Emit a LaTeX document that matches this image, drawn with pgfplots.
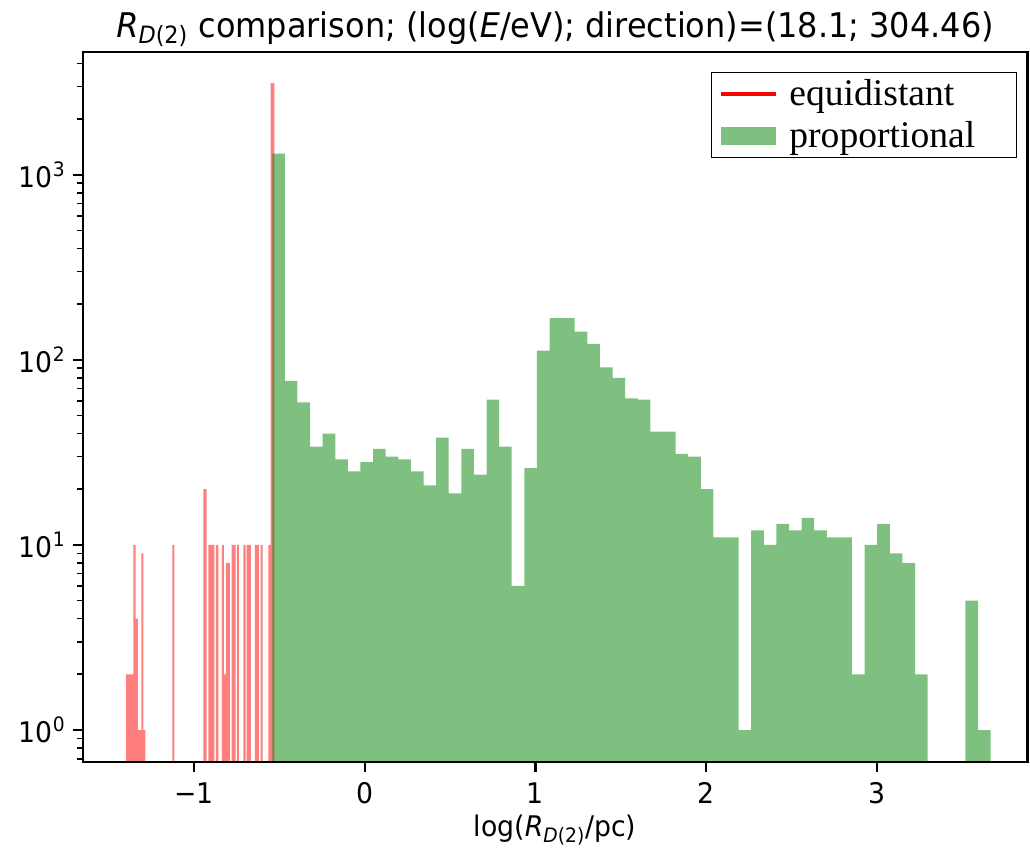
\documentclass[border=0pt]{standalone}
\usepackage{fontspec}
\setmainfont{DejaVu Sans}[FakeStretch=0.94]
\newfontfamily\legfont{Liberation Serif}
\usepackage{pgfplots}
\pgfplotsset{compat=1.18}
\definecolor{mplred}{RGB}{255,0,0}
\definecolor{mplgreen}{RGB}{0,128,0}
\begin{document}
\begin{tikzpicture}
\begin{axis}[
  name=ax, scale only axis, width=472.4pt, height=355pt,
  xmin=-1.654, xmax=3.884,
  ymode=log, log basis y=10, ymin=0.674, ymax=4624,
  log origin=infty,
  axis on top,
  xtick={-1,0,1,2,3}, xticklabels={−1,0,1,2,3},
  ytick={1,10,100,1000},
  yticklabels={10\textsuperscript{0},10\textsuperscript{1},10\textsuperscript{2},10\textsuperscript{3}},
  minor ytick={0.7,0.8,0.9,2,3,4,5,6,7,8,9,20,30,40,50,60,70,80,90,200,300,400,500,600,700,800,900,2000,3000,4000},
  xtick pos=left, ytick pos=left, tick align=outside,
  major tick length=4.96pt, minor tick length=2.83pt,
  every tick/.append style={black, line width=1.13pt},
  every minor tick/.append style={line width=0.85pt},
  axis line style={line width=1.13pt},
  tick label style={font=\fontsize{14.2}{17}\selectfont},
  xticklabel style={yshift=-2pt},
  title={\textit{R}\textsubscript{\textit{D}(2)} comparison; (log(\textit{E}/eV); direction)=(18.1; 304.46)},
  title style={font=\fontsize{17}{20}\selectfont, at={(0.5,1)}, anchor=base, yshift=1pt},
  xlabel={log(\textit{R}\textsubscript{\textit{D}(2)}/pc)},
  xlabel style={font=\fontsize{14.2}{17}\selectfont, at={(0.5,0)}, anchor=base, yshift=-37.6pt},
  legend style={at={(1,1)}, anchor=north east, xshift=-5.25pt, yshift=-10.15pt,
    draw=black, line width=0.6pt, fill=white,
    font=\legfont\fontsize{18.8}{22}\selectfont, inner xsep=4pt, inner ysep=1.5pt, row sep=2.5pt},
  legend cell align=left,
]
\addplot[ybar interval, fill=mplred, fill opacity=0.5, draw=none,
  legend image code/.code={\draw[mplred, line width=2pt, opacity=1] (0pt,0pt) -- (27.5pt,0pt);}]
coordinates {
(-1.4004,2) (-1.3810,2) (-1.3564,10) (-1.3435,4) (-1.3312,1) (-1.3107,9) (-1.2990,1)
(-1.2860,0.01) (-1.1290,10) (-1.1172,0.01) (-0.9472,20) (-0.9273,0.01)
(-0.9179,10) (-0.9062,10) (-0.8945,10) (-0.8828,0.01) (-0.8728,10) (-0.8593,0.01)
(-0.8388,10) (-0.8259,2) (-0.8142,8) (-0.7907,0.01) (-0.7808,10) (-0.7690,10)
(-0.7579,0.01) (-0.7503,10) (-0.7380,0.01) (-0.7128,10) (-0.6993,0.01)
(-0.6928,10) (-0.6805,10) (-0.6676,0.01) (-0.6442,10) (-0.6325,10) (-0.6208,0.01)
(-0.6114,10) (-0.5991,0.01) (-0.5662,10) (-0.5528,3130) (-0.5311,3130)
};
\addlegendentry{\hspace{3.5pt}\makebox[107.5pt][l]{equidistant}}
\addplot[ybar interval, fill=mplgreen, fill opacity=0.5, draw=none,
  legend image code/.code={\fill[mplgreen, fill opacity=0.5] (0pt,-4.5pt) rectangle (27.5pt,4.5pt);}]
coordinates {
(-0.5428,1300) (-0.4689,77) (-0.3951,59) (-0.3212,34) (-0.2473,40) (-0.1735,29)
(-0.0996,25) (-0.0257,28) (0.0482,33) (0.1220,30) (0.1959,29) (0.2698,25)
(0.3436,21) (0.4175,38) (0.4914,19) (0.5653,33) (0.6391,24) (0.7130,61)
(0.7869,34) (0.8607,6) (0.9346,26) (1.0085,112) (1.0823,168) (1.1562,168)
(1.2301,142) (1.3040,122) (1.3778,91) (1.4517,80) (1.5256,62) (1.5994,61)
(1.6733,41) (1.7472,41) (1.8210,31) (1.8949,30) (1.9688,20) (2.0427,11)
(2.1165,11) (2.1904,1) (2.2643,12) (2.3381,10) (2.4120,13) (2.4859,12)
(2.5597,14) (2.6336,12) (2.7075,11) (2.7814,11) (2.8552,2) (2.9291,10)
(3.0030,13) (3.0768,9) (3.1507,8) (3.2246,2) (3.2984,0.01) (3.3723,0.01)
(3.4462,0.01) (3.5200,5) (3.5939,1) (3.6678,1)
};
\addlegendentry{\hspace{3.5pt}\makebox[107.5pt][l]{proportional}}
\end{axis}
\pgfresetboundingbox
\path ([xshift=-41.35pt,yshift=-45.15pt]ax.south west) rectangle ([xshift=1.25pt,yshift=25.85pt]ax.north east);
\end{tikzpicture}
\end{document}
